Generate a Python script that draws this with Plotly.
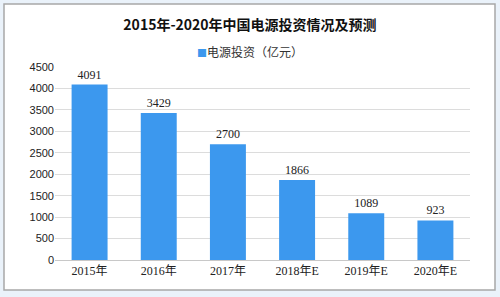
import plotly.graph_objects as go

categories = ["2015年", "2016年", "2017年", "2018年E", "2019年E", "2020年E"]
values = [4091, 3429, 2700, 1866, 1089, 923]
series_name = "电源投资（亿元）"
title_text = "2015年-2020年中国电源投资情况及预测"
bar_color = "#3c98ee"

L, R, T, B = 55, 30, 67, 37
W, H = 500, 297
pw, ph = W - L - R, H - T - B

def px(x):
    return (x - L) / pw

def py(y):
    return (H - B - y) / ph

fig = go.Figure()
fig.add_trace(go.Bar(
    x=categories, y=values, name=series_name, showlegend=False,
    marker=dict(color=bar_color, line=dict(width=0)),
    text=[str(v) for v in values], textposition="outside",
    textfont=dict(size=12, color="#222222", family="Liberation Serif, Noto Sans CJK SC"),
    cliponaxis=False,
))

fig.update_layout(
    width=W, height=H,
    margin=dict(l=L, r=R, t=T, b=B),
    paper_bgcolor="#eaf2fa",
    plot_bgcolor="rgba(0,0,0,0)",
    bargap=0.48,
    showlegend=False,
    title=dict(text="<b>" + title_text + "</b>", x=0.5, xanchor="center",
               y=1 - 25 / H, yanchor="middle",
               font=dict(size=14, color="#111111", family="Noto Sans CJK SC")),
    font=dict(family="Noto Sans CJK SC", color="#333333"),
    annotations=[dict(xref="paper", yref="paper", x=px(250), y=py(52),
                      xanchor="center", yanchor="middle", showarrow=False,
                      text="<span style='color:%s;font-size:10px'>■</span>%s" % (bar_color, series_name),
                      font=dict(size=12, color="#333333", family="Noto Sans CJK SC"))],
    shapes=[dict(type="rect", xref="paper", yref="paper",
                 x0=px(4), x1=px(495), y0=py(290), y1=py(4),
                 fillcolor="white", line=dict(color="#a8a8a8", width=1.5), layer="below")],
)
fig.update_xaxes(showline=True, linecolor="#c8c8c8", linewidth=1, ticks="",
                 tickfont=dict(size=12, color="#222222", family="Liberation Serif, Noto Sans CJK SC"),
                 showgrid=False)
fig.update_yaxes(range=[0, 4500], dtick=500, showgrid=True, gridcolor="#dcdcdc", gridwidth=1,
                 zeroline=False, ticks="", ticklen=0,
                 tickfont=dict(size=11, color="#222222", family="Liberation Sans, Noto Sans"))

fig.write_html("out.html")
